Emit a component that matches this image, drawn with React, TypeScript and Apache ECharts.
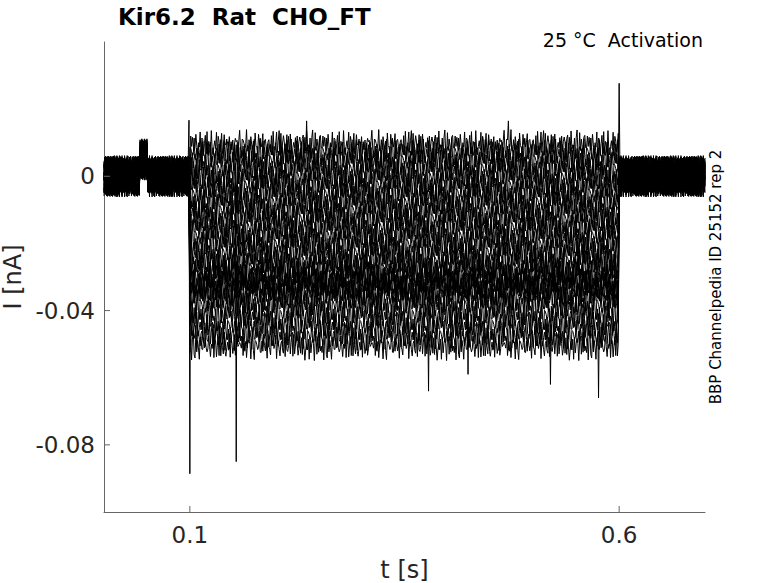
import React, { useEffect, useRef } from "react";
import * as echarts from "echarts";

// ---- data ----
const STEP_S = 0.001; // sample interval [s]
const SAMPLE_COUNT = 701; // 0 .. 0.7 s
const PULSE_START_INDEX = 100; // t = 0.1 s
const PULSE_END_INDEX = 600; // t = 0.6 s

const X_MIN = 0;
const X_MAX = 0.7;
const Y_MIN = -0.1;
const Y_MAX = 0.04;
const xTickValues = [0.1, 0.6];
const yTickValues = [-0.08, -0.04, 0];

// steady-state current of each sweep during the pulse [nA]
const sweepLevels = [
  0.0095, 0.007, 0.0045, 0.002, -0.0005, -0.003, -0.0055, -0.008, -0.0105,
  -0.013, -0.0155, -0.018, -0.0205, -0.023, -0.0255, -0.0275, -0.0295, -0.031,
  -0.0325, -0.034, -0.036, -0.0385, -0.0415, -0.0445, -0.0475, -0.0505,
];

// recorded noise pattern [x 1e-3 nA]
const noisePattern = [
  0.8, 2.1, 3.3, 1.2, -0.6, -2.4, -3.9, -1.8, 0.4, 1.1, -0.9, 2.6, 4.2, 3.0,
  0.7, -1.4, -0.2, -2.8, -4.1, -3.2, -1.0, 1.6, 0.5, 2.9, 1.3, -0.8, -2.2, 0.3,
  3.7, 2.4, -1.1, -3.5, -2.6, -0.4, 1.9, 3.1, 4.4, 1.5, -0.7, -1.9, -3.3, -4.3,
  -2.0, 0.2, -0.9, 1.4, 2.7, 0.6, -1.6, -2.9, -1.2, 2.3, 3.8, 2.0, 0.1, -3.0,
  -4.0, -1.5, 0.9, 2.5, 1.0, -0.5, -2.1, -3.7, -2.4, 0.8, 3.4, 4.1, 2.2, -0.3,
  -1.7, 0.6, -1.0, -3.1, -4.4, -2.7, -0.6, 1.8, 3.0, 1.1, 2.8, 0.0, -1.3, -2.5,
  1.7, 3.6, 2.1, -0.8, -3.4, -1.9, 0.5, 2.4, 4.0, 3.2, 0.9, -1.5, -3.8, -2.3,
  -0.1, 1.2, -0.4, -2.0, 1.5, 3.3, 1.9, -1.1, -2.8, -4.2, -3.0, -0.9, 2.0, 0.7,
  2.9, 4.3, 1.4, -0.2, -2.6, -1.4, 0.3, -3.6, -2.2, 1.0, 3.5, 2.6, 0.4, -1.8,
  -3.2, -0.7, 1.6, 3.9, 2.3, -0.5, -1.2, -2.9, -4.0, -1.7, 0.8, 2.2, 0.1, -1.6,
  2.7, 3.7, 1.3, -1.0, -2.4, -3.5, -1.1, 1.1, 0.2, 2.5, 4.1, 1.8, -0.6, -3.1,
];
const baselineNoiseGain = 1.4;
const pulseNoiseGain = 1.0;

// transients: [sweep, sample index, current nA]
const transients: [number, number, number][] = [
  [0, 99, 0.0167],
  [0, 100, -0.0886],
  [3, 154, -0.085],
  [1, 236, 0.0165],
  [0, 471, 0.0165],
  [20, 378, -0.064],
  [18, 424, -0.059],
  [21, 520, -0.062],
  [22, 576, -0.066],
  [5, 600, 0.0277],
];

// common baseline shift near t = 0.045 s: [from index, to index, shift nA]
const baselineShift: [number, number, number] = [42, 50, 0.005];

// ---- build series ----
function buildSweep(k: number): [number, number][] {
  const pts: [number, number][] = [];
  for (let i = 0; i < SAMPLE_COUNT; i++) {
    const inPulse = i >= PULSE_START_INDEX && i < PULSE_END_INDEX;
    const n = noisePattern[(i * 3 + k * 29) % noisePattern.length] * 1e-3;
    let v = inPulse ? sweepLevels[k] + n * pulseNoiseGain : n * baselineNoiseGain;
    if (i >= baselineShift[0] && i <= baselineShift[1]) v += baselineShift[2];
    pts.push([i * STEP_S, v]);
  }
  for (const [s, idx, val] of transients) {
    if (s === k) pts[idx] = [idx * STEP_S, val];
  }
  return pts;
}

const FONT = "DejaVu Sans";
const TEXT = "#262626";
const AXIS = "#666666";
const TICK_LEN = 6;

const isTick = (list: number[], v: number) => list.some((t) => Math.abs(t - v) < 1e-9);

export default function App() {
  const ref = useRef<HTMLDivElement>(null);
  useEffect(() => {
    if (!ref.current) return;
    const chart = echarts.init(ref.current, undefined, { renderer: "svg" });
    const series: any[] = sweepLevels.map((_, k) => ({
      type: "line",
      data: buildSweep(k),
      showSymbol: false,
      symbol: "none",
      silent: true,
      lineStyle: { color: "#000000", width: 1, join: "round", cap: "butt" },
      animation: false,
    }));
    // inward tick marks (drawn through the axes' scales)
    series.push({
      type: "custom",
      silent: true,
      clip: false,
      z: 5,
      data: xTickValues.map((v) => [v, Y_MIN]),
      renderItem: (_p: any, api: any) => {
        const p = api.coord([api.value(0), api.value(1)]);
        return {
          type: "line",
          shape: { x1: p[0], y1: p[1], x2: p[0], y2: p[1] - TICK_LEN },
          style: { stroke: AXIS, lineWidth: 1 },
        };
      },
    });
    series.push({
      type: "custom",
      silent: true,
      clip: false,
      z: 5,
      data: yTickValues.map((v) => [X_MIN, v]),
      renderItem: (_p: any, api: any) => {
        const p = api.coord([api.value(0), api.value(1)]);
        return {
          type: "line",
          shape: { x1: p[0], y1: p[1], x2: p[0] + TICK_LEN, y2: p[1] },
          style: { stroke: AXIS, lineWidth: 1 },
        };
      },
    });
    chart.setOption({
      animation: false,
      title: {
        text: "Kir6.2  Rat  CHO_FT",
        left: 118,
        top: 5,
        padding: 0,
        textStyle: { fontFamily: FONT, fontSize: 23, fontWeight: "bold", color: "#000" },
      },
      grid: { left: 104, right: 73, top: 42, bottom: 71, containLabel: false, outerBoundsMode: "none" },
      xAxis: {
        type: "value",
        min: X_MIN,
        max: X_MAX,
        interval: 0.1,
        name: "t [s]",
        nameLocation: "middle",
        nameGap: 46,
        nameTextStyle: { fontFamily: FONT, fontSize: 24, color: TEXT },
        axisLine: { show: true, onZero: false, lineStyle: { color: AXIS, width: 1 } },
        axisTick: { show: false },
        axisLabel: {
          fontFamily: FONT,
          fontSize: 23,
          color: TEXT,
          margin: 11,
          showMinLabel: false,
          showMaxLabel: false,
          formatter: (v: number) => (isTick(xTickValues, v) ? String(Math.round(v * 10) / 10) : ""),
        },
        splitLine: { show: false },
      },
      yAxis: {
        type: "value",
        min: Y_MIN,
        max: Y_MAX,
        interval: 0.02,
        name: "I [nA]",
        nameLocation: "middle",
        nameGap: 75,
        nameTextStyle: { fontFamily: FONT, fontSize: 24, color: TEXT },
        axisLine: { show: true, onZero: false, lineStyle: { color: AXIS, width: 1 } },
        axisTick: { show: false },
        axisLabel: {
          fontFamily: FONT,
          fontSize: 23,
          color: TEXT,
          margin: 9,
          formatter: (v: number) => (isTick(yTickValues, v) ? String(Math.round(v * 100) / 100) : ""),
        },
        splitLine: { show: false },
      },
      graphic: [
        {
          type: "text",
          x: 703,
          y: 40,
          style: {
            text: "25 °C  Activation",
            fontFamily: FONT,
            fontSize: 19,
            fill: "#000",
            textAlign: "right",
            textVerticalAlign: "middle",
          },
        },
        {
          type: "text",
          x: 716,
          y: 277,
          rotation: Math.PI / 2,
          style: {
            text: "BBP Channelpedia ID 25152 rep 2",
            fontFamily: FONT,
            fontSize: 15,
            fill: "#000",
            textAlign: "center",
            textVerticalAlign: "middle",
          },
        },
      ],
      series,
    });
    return () => chart.dispose();
  }, []);
  return (
    <div
      ref={ref}
      style={{ position: "absolute", left: 0, top: 0, width: 778, height: 583 }}
    />
  );
}
